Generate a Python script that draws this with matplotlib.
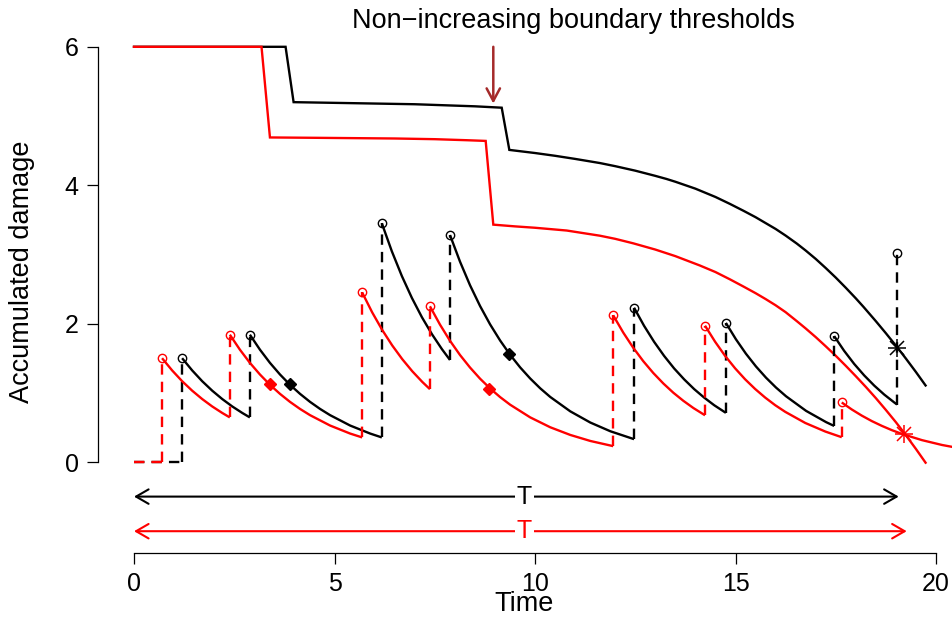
import matplotlib
matplotlib.use("Agg")
import matplotlib.pyplot as plt

plt.rcParams['font.family'] = ['Liberation Sans', 'DejaVu Sans']

# ---------------- data ----------------
black_bound_t = [0, 3.78, 3.98, 5.0, 6.0, 7.0, 8.0, 8.5, 9.17, 9.36, 10.0, 10.5, 11.0, 11.62,
                 12.0, 12.5, 13.0, 13.28, 13.5, 14.0, 14.5, 14.86, 15.2, 15.5, 15.75, 16.0,
                 16.25, 16.53, 16.75, 17.0, 17.25, 17.5, 17.75, 18.0, 18.19, 18.5, 18.75,
                 19.04, 19.25, 19.5, 19.74]
black_bound_y = [6.0, 6.0, 5.20, 5.19, 5.18, 5.17, 5.15, 5.14, 5.12, 4.51, 4.465, 4.425, 4.38, 4.32,
                 4.275, 4.21, 4.135, 4.09, 4.05, 3.95, 3.83, 3.73, 3.63, 3.538, 3.453, 3.368,
                 3.272, 3.156, 3.056, 2.935, 2.803, 2.665, 2.518, 2.365, 2.243, 2.035, 1.861,
                 1.652, 1.494, 1.300, 1.106]

red_bound_t = [0, 3.18, 3.39, 4.5, 5.5, 6.5, 7.5, 8.3, 8.77, 8.96, 9.5, 10.0, 10.79, 11.62,
               12.0, 12.45, 13.0, 13.5, 14.11, 14.5, 14.86, 15.2, 15.5, 15.75, 16.0, 16.25,
               16.53, 16.75, 17.0, 17.25, 17.5, 17.75, 18.0, 18.25, 18.5, 18.75, 19.0, 19.2,
               19.5, 19.74]
red_bound_y = [6.0, 6.0, 4.69, 4.685, 4.68, 4.675, 4.665, 4.65, 4.64, 3.43, 3.405, 3.385, 3.345, 3.27,
               3.225, 3.16, 3.07, 2.975, 2.84, 2.745, 2.64, 2.535, 2.44, 2.355, 2.265, 2.165,
               2.035, 1.930, 1.805, 1.672, 1.535, 1.390, 1.240, 1.085, 0.923, 0.752, 0.575, 0.425,
               0.188, -0.010]

black_decay_t = [
    [1.2, 1.45, 1.7, 1.95, 2.2, 2.45, 2.7, 2.89],
    [2.89, 3.14, 3.39, 3.64, 3.89, 4.14, 4.39, 4.64, 4.89, 5.39, 5.89, 6.18],
    [6.18, 6.43, 6.68, 6.93, 7.18, 7.43, 7.68, 7.88],
    [7.88, 8.13, 8.38, 8.63, 8.88, 9.13, 9.38, 9.63, 9.88, 10.13, 10.38, 10.88, 11.38, 11.88, 12.47],
    [12.47, 12.72, 12.97, 13.22, 13.47, 13.72, 13.97, 14.22, 14.47, 14.76],
    [14.76, 15.01, 15.26, 15.51, 15.76, 16.01, 16.26, 16.76, 17.26, 17.46],
    [17.46, 17.71, 17.96, 18.21, 18.46, 18.71, 18.96, 19.03],
]
black_decay_y = [
    [1.50, 1.324, 1.168, 1.031, 0.910, 0.803, 0.709, 0.644],
    [1.84, 1.624, 1.433, 1.265, 1.116, 0.985, 0.869, 0.767, 0.677, 0.527, 0.411, 0.355],
    [3.45, 3.045, 2.687, 2.371, 2.092, 1.847, 1.630, 1.474],
    [3.28, 2.895, 2.554, 2.254, 1.989, 1.756, 1.549, 1.367, 1.207, 1.065, 0.940, 0.732, 0.570, 0.444, 0.330],
    [2.23, 1.968, 1.737, 1.533, 1.352, 1.194, 1.053, 0.930, 0.820, 0.710],
    [2.01, 1.774, 1.565, 1.381, 1.219, 1.076, 0.950, 0.739, 0.576, 0.521],
    [1.82, 1.606, 1.417, 1.251, 1.104, 0.974, 0.860, 0.830],
]
black_last_jump_t = 19.03
black_last_jump_y = 3.02

red_decay_t = [
    [0.7, 0.95, 1.2, 1.45, 1.7, 1.95, 2.2, 2.39],
    [2.39, 2.64, 2.89, 3.14, 3.39, 3.64, 3.89, 4.14, 4.39, 4.89, 5.39, 5.69],
    [5.69, 5.94, 6.19, 6.44, 6.69, 6.94, 7.19, 7.38],
    [7.38, 7.63, 7.88, 8.13, 8.38, 8.63, 8.88, 9.13, 9.38, 9.88, 10.38, 10.88, 11.38, 11.95],
    [11.95, 12.2, 12.45, 12.7, 12.95, 13.2, 13.45, 13.7, 13.95, 14.24],
    [14.24, 14.49, 14.74, 14.99, 15.24, 15.49, 15.74, 15.99, 16.24, 16.74, 17.24, 17.65],
    [17.65, 17.9, 18.15, 18.4, 18.65, 18.9, 19.15, 19.65, 20.15, 20.65],
]
red_decay_y = [
    [1.50, 1.324, 1.168, 1.031, 0.910, 0.803, 0.709, 0.644],
    [1.84, 1.624, 1.433, 1.265, 1.116, 0.985, 0.869, 0.767, 0.677, 0.527, 0.411, 0.355],
    [2.45, 2.162, 1.908, 1.684, 1.486, 1.311, 1.157, 1.052],
    [2.25, 1.986, 1.752, 1.546, 1.365, 1.204, 1.063, 0.938, 0.828, 0.645, 0.502, 0.391, 0.304, 0.229],
    [2.12, 1.871, 1.651, 1.457, 1.286, 1.135, 1.001, 0.884, 0.780, 0.675],
    [1.97, 1.739, 1.534, 1.354, 1.195, 1.055, 0.931, 0.821, 0.725, 0.564, 0.440, 0.358],
    [0.86, 0.759, 0.670, 0.591, 0.522, 0.460, 0.406, 0.316, 0.246, 0.192],
]

black_diamond_t = [3.89, 9.35]
black_diamond_y = [1.12, 1.56]
red_diamond_t = [3.39, 8.86]
red_diamond_y = [1.12, 1.06]

black_star_t, black_star_y = 19.03, 1.65
red_star_t, red_star_y = 19.20, 0.41

black_T_end = 19.07
red_T_end = 19.27
T_label_x = 9.73

arrow_x = 8.96
arrow_top, arrow_tip = 6.0, 5.18

x_ticks = [0, 5, 10, 15, 20]
y_ticks = [0, 2, 4, 6]

title_text = "Non\u2212increasing boundary thresholds"
xlabel_text = "Time"
ylabel_text = "Accumulated damage"

# ---------------- figure ----------------
W, H = 952, 617
fig = plt.figure(figsize=(W / 100, H / 100), dpi=100)
PXX, PXY = 40.1, 69.2   # pixels per data unit
X0PX, Y0PX = 134, 462   # pixel of data (0, 0)
ax = fig.add_axes([98 / W, (H - 553) / H, 1 - 98 / W, 553 / H])
ax.set_xlim((98 - X0PX) / PXX, (W - X0PX) / PXX)
ax.set_ylim((Y0PX - 553) / PXY, Y0PX / PXY)

LW = 1.7
DASH = (0, (4.4, 3.0))
RED = '#FF0000'

# boundaries
ax.plot(black_bound_t, black_bound_y, color='black', lw=LW, solid_joinstyle='miter', zorder=2)
ax.plot(red_bound_t, red_bound_y, color=RED, lw=LW, solid_joinstyle='miter', zorder=2.1)


def draw_path(seg_t, seg_y, color, z, last_jump=None):
    # horizontal dashed at zero until first jump
    ax.plot([0, seg_t[0][0]], [0, 0], color=color, lw=LW, linestyle=DASH,
            dash_capstyle='butt', zorder=z)
    prev = 0.0
    for t, y in zip(seg_t, seg_y):
        ax.plot([t[0], t[0]], [prev, y[0]], color=color, lw=LW, linestyle=DASH,
                dash_capstyle='butt', zorder=z)
        ax.plot(t, y, color=color, lw=LW, solid_capstyle='butt', zorder=z)
        ax.plot([t[0]], [y[0]], marker='o', ms=6, mfc='none', mec=color, mew=1.0,
                linestyle='none', zorder=z + 0.05)
        prev = y[-1]
    if last_jump is not None:
        lt, ly = last_jump
        ax.plot([lt, lt], [prev, ly], color=color, lw=LW, linestyle=DASH,
                dash_capstyle='butt', zorder=z)
        ax.plot([lt], [ly], marker='o', ms=6, mfc='none', mec=color, mew=1.0,
                linestyle='none', zorder=z + 0.05)


draw_path(black_decay_t, black_decay_y, 'black', 3, (black_last_jump_t, black_last_jump_y))
draw_path(red_decay_t, red_decay_y, RED, 3.2)

ax.plot(black_diamond_t, black_diamond_y, linestyle='none', marker='D', ms=6.5,
        color='black', zorder=4)
ax.plot(red_diamond_t, red_diamond_y, linestyle='none', marker='D', ms=6.5,
        color=RED, zorder=4)

for (st, sy, c) in [(black_star_t, black_star_y, 'black'), (red_star_t, red_star_y, RED)]:
    ax.plot([st], [sy], marker='+', ms=13, mew=1.1, color=c, linestyle='none', zorder=4)
    ax.plot([st], [sy], marker='x', ms=9.5, mew=1.1, color=c, linestyle='none', zorder=4)

# T arrows
for (yy, xend, c) in [(-0.5, black_T_end, 'black'), (-1.0, red_T_end, RED)]:
    ax.annotate('', xy=(0, yy), xytext=(xend, yy),
                arrowprops=dict(arrowstyle='<->,head_length=0.45,head_width=0.26',
                                color=c, lw=1.5, shrinkA=0, shrinkB=0, mutation_scale=20),
                annotation_clip=False)
    ax.text(T_label_x, yy, 'T', color=c, ha='center', va='center', fontsize=18,
            bbox=dict(facecolor='white', edgecolor='none', pad=1.5), zorder=5)

# brown annotation arrow
ax.annotate('', xy=(arrow_x, arrow_tip), xytext=(arrow_x, arrow_top),
            arrowprops=dict(arrowstyle='->,head_length=0.45,head_width=0.24',
                            color='#A52A2A', lw=1.8, shrinkA=0, shrinkB=0, mutation_scale=20),
            annotation_clip=False)

# axes styling (R-like detached axes)
for s in ['top', 'right']:
    ax.spines[s].set_visible(False)
ax.spines['left'].set_bounds(0, 6)
ax.spines['bottom'].set_bounds(0, 20)
for s in ['left', 'bottom']:
    ax.spines[s].set_linewidth(0.9)
ax.set_xticks(x_ticks)
ax.set_yticks(y_ticks)
ax.set_xticklabels([str(v) for v in x_ticks])
ax.set_yticklabels([str(v) for v in y_ticks])
ax.tick_params(direction='out', length=8, width=0.9, labelsize=18)
ax.tick_params(axis='x', pad=6)
ax.tick_params(axis='y', pad=6)
ax.patch.set_visible(False)

fig.text(573.5 / W, 1 - 28.3 / H, title_text, ha='center', va='baseline', fontsize=19.5)
fig.text((X0PX + T_label_x * PXX) / W, 1 - 611 / H, xlabel_text, ha='center',
         va='baseline', fontsize=19.5)
fig.text(22 / W, 1 - 271.5 / H, ylabel_text, rotation=90, ha='center', va='center',
         fontsize=19.5)

fig.savefig('out.png', dpi=100)
